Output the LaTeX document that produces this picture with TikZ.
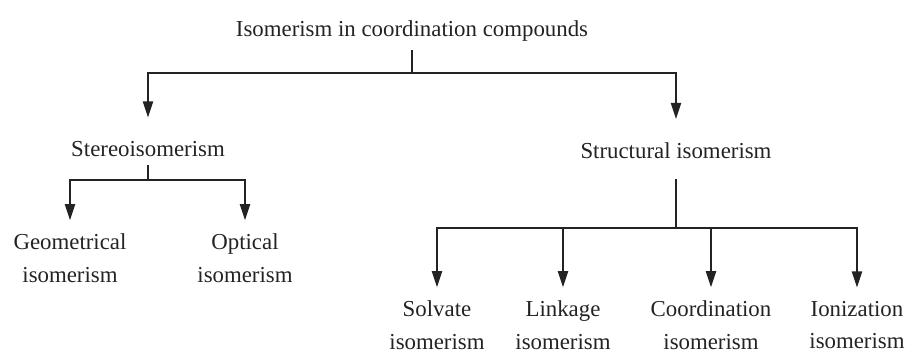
\documentclass[tikz,border=0pt]{standalone}
\usepackage{fontspec}
\setmainfont{Liberation Serif}
\usepackage{tikz}
\usetikzlibrary{arrows.meta}
\definecolor{InkGray}{RGB}{35,35,35}
\tikzset{
  lbl/.style={font=\fontsize{19.5}{28}\selectfont, text=InkGray, align=center, inner sep=2pt},
  conn/.style={line width=2.1pt, draw=InkGray},
  arr/.style={conn, -{Triangle[length=14pt, width=8.5pt]}},
}

\begin{document}
\begin{tikzpicture}[x=0.03cm, y=-0.03cm]
  \useasboundingbox (0,0) rectangle (913,354);
  % labels
  \node[lbl] (root) at (412,31) {Isomerism in coordination compounds};
  \node[lbl] (stereo) at (148,149) {Stereoisomerism};
  \node[lbl] (struct) at (676,151) {Structural isomerism};
  \node[lbl] (geo) at (70,258) {Geometrical\\isomerism};
  \node[lbl] (opt) at (245,258) {Optical\\isomerism};
  \foreach \n/\x/\t in {solv/437/Solvate, link/563/Linkage, coord/711/Coordination, ion/857/Ionization}
    \node[lbl] (\n) at (\x,325) {\t\\isomerism};

  % junctions
  \coordinate (rootbar) at (412,73);
  \coordinate (stereobar) at (148,180);
  \coordinate (structbar) at (676,228);

  % connectors
  \draw[conn, shorten <=5pt] (root.south) -- (rootbar);
  \draw[arr, shorten >=18pt] (rootbar) -| (stereo.north);
  \draw[arr, shorten >=18pt] (rootbar) -| (struct.north);

  \draw[conn, shorten <=5pt] (stereo.south) -- (stereobar);
  \foreach \n in {geo,opt}
    \draw[arr, shorten >=9pt] (stereobar) -| (\n.north);

  \draw[conn, shorten <=15pt] (struct.south) -- (structbar);
  \foreach \n in {solv,link,coord,ion}
    \draw[arr, shorten >=9pt] (structbar) -| (\n.north);
\end{tikzpicture}
\end{document}
